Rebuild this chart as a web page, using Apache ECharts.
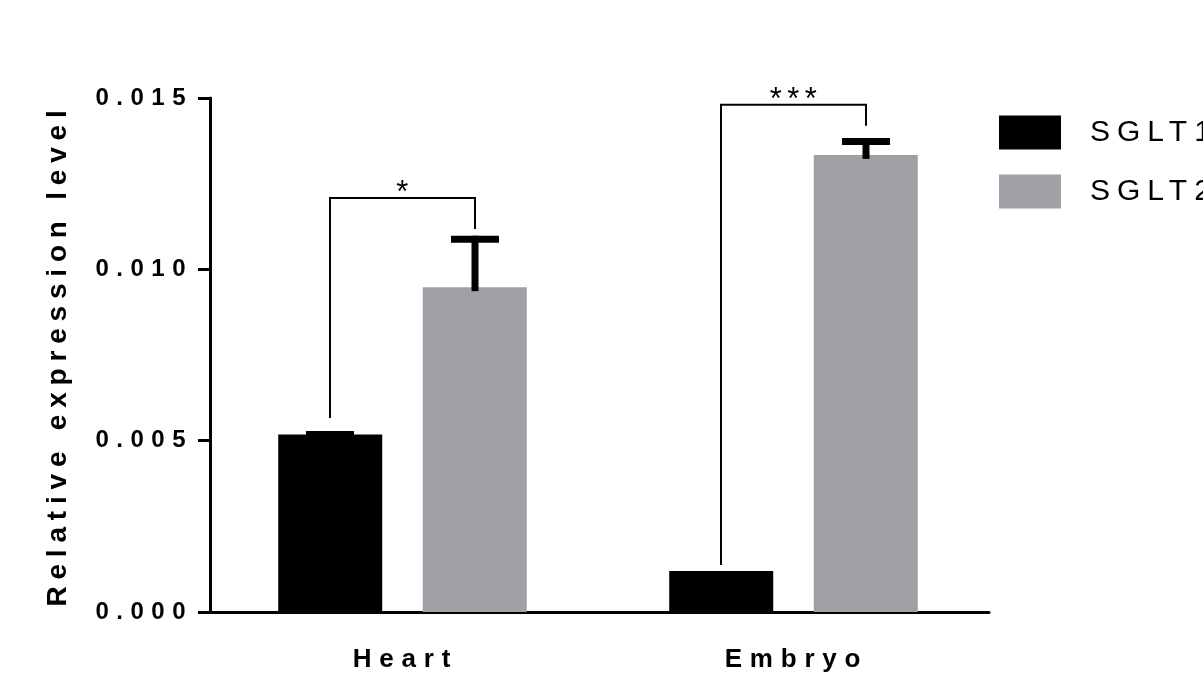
<!DOCTYPE html>
<html>
<head>
<meta charset="utf-8">
<script src="https://cdn.jsdelivr.net/npm/echarts@6/dist/echarts.min.js"></script>
<style>
html,body{margin:0;padding:0;background:#fff;}
#chart{width:1203px;height:686px;}
</style>
</head>
<body>
<div id="chart"></div>
<script>
// ---- data ----
const categories = ['Heart', 'Embryo'];
const seriesNames = ['SGLT1', 'SGLT2'];
const sglt1Mean = [0.00518, 0.0012];
const sglt1Sem = [0.0001, 0];
const sglt2Mean = [0.00948, 0.01334];
const sglt2Sem = [0.0015, 0.00049];
const sigLabels = ['*', '***'];
const sigBracketTop = [0.01208, 0.0148];
const sigLeftLegBottom = [0.00566, 0.00137];
const sigRightLegBottom = [0.01118, 0.01419];

// ---- style ----
const FONT = '"Liberation Sans", Arial, sans-serif';
const GRAY = '#a09fa5';
const BAR_W = 104;
const HALF_SPACING = 72.5; // distance of each bar centre from category centre

// font size -> letter spacing (the reference uses widely tracked text)
const TRACKING = { '24': 7.5, '26': 7.8, '28': 6.8, '30': 7, '31': 5.5 };
(function () {
  const proto = CanvasRenderingContext2D.prototype;
  if (!('letterSpacing' in proto)) return;
  const apply = function (ctx) {
    const m = /(\d+(?:\.\d+)?)px/.exec(ctx.font || '');
    const s = m ? TRACKING[m[1]] : null;
    ctx.letterSpacing = s ? s + 'px' : '0px';
  };
  const f = proto.fillText, st = proto.strokeText, me = proto.measureText;
  proto.fillText = function () { apply(this); return f.apply(this, arguments); };
  proto.strokeText = function () { apply(this); return st.apply(this, arguments); };
  proto.measureText = function () { apply(this); return me.apply(this, arguments); };
})();

const chart = echarts.init(document.getElementById('chart'));

const errData = [];
categories.forEach((c, i) => {
  errData.push([i, sglt1Mean[i], sglt1Sem[i], 0]);
  errData.push([i, sglt2Mean[i], sglt2Sem[i], 1]);
});
const sigData = categories.map((c, i) => [i, sigBracketTop[i], sigLeftLegBottom[i], sigRightLegBottom[i]]);

const option = {
  animation: false,
  backgroundColor: '#fff',
  textStyle: { fontFamily: FONT },
  grid: { left: 207, right: 214, top: 98, bottom: 74, containLabel: false },
  legend: {
    orient: 'vertical',
    left: 999,
    top: 114,
    padding: 0,
    itemWidth: 62,
    itemHeight: 34,
    itemGap: 22,
    icon: 'rect',
    data: seriesNames,
    textStyle: { fontSize: 30, color: '#000', fontFamily: FONT, padding: [0, 0, 0, 24] }
  },
  xAxis: {
    type: 'category',
    data: categories,
    axisLine: { lineStyle: { color: '#000', width: 3 } },
    axisTick: { alignWithLabel: true, length: 14, lineStyle: { color: '#000', width: 3 } },
    axisLabel: { margin: 31, fontSize: 26, fontWeight: 'bold', color: '#000', fontFamily: FONT, padding: [0, 0, 0, 6] },
    splitLine: { show: false }
  },
  yAxis: {
    type: 'value',
    min: 0,
    max: 0.015,
    interval: 0.005,
    offset: -3,
    name: 'Relative expression level',
    nameLocation: 'middle',
    nameGap: 134,
    nameTextStyle: { fontSize: 28, fontWeight: 'bold', color: '#000', fontFamily: FONT },
    axisLine: { show: true, lineStyle: { color: '#000', width: 3 } },
    axisTick: { show: true, length: 12, lineStyle: { color: '#000', width: 3 } },
    axisLabel: {
      margin: 17, fontSize: 24, fontWeight: 'bold', color: '#000', fontFamily: FONT,
      formatter: v => v.toFixed(3)
    },
    splitLine: { show: false }
  },
  series: [
    {
      name: seriesNames[0], type: 'bar', data: sglt1Mean,
      barWidth: BAR_W, barGap: '39%', itemStyle: { color: '#000' }, z: 2
    },
    {
      name: seriesNames[1], type: 'bar', data: sglt2Mean,
      barWidth: BAR_W, barGap: '39%', itemStyle: { color: GRAY }, z: 2
    },
    {
      type: 'custom',
      name: 'err',
      data: errData,
      encode: { x: 0, y: 1 },
      z: 3,
      silent: true,
      renderItem: function (params, api) {
        const sem = api.value(2);
        if (!sem) return { type: 'group', children: [] };
        const off = api.value(3) === 0 ? -HALF_SPACING : HALF_SPACING;
        const top = api.coord([api.value(0), api.value(1) + sem]);
        const base = api.coord([api.value(0), api.value(1)]);
        const x = top[0] + off;
        return {
          type: 'group',
          children: [
            { type: 'rect', shape: { x: x - 3.5, y: top[1], width: 7, height: base[1] - top[1] + 4 }, style: { fill: '#000' } },
            { type: 'rect', shape: { x: x - 24, y: top[1], width: 48, height: 7 }, style: { fill: '#000' } }
          ]
        };
      }
    },
    {
      type: 'custom',
      name: 'sig',
      data: sigData,
      encode: { x: 0, y: 1 },
      z: 4,
      silent: true,
      renderItem: function (params, api) {
        const i = api.value(0);
        const t = api.coord([i, api.value(1)]);
        const lb = api.coord([i, api.value(2)]);
        const rb = api.coord([i, api.value(3)]);
        const lx = t[0] - HALF_SPACING;
        const rx = t[0] + HALF_SPACING;
        return {
          type: 'group',
          children: [
            {
              type: 'polyline',
              shape: { points: [[lx, lb[1]], [lx, t[1]], [rx, t[1]], [rx, rb[1]]] },
              style: { stroke: '#000', lineWidth: 2, fill: null }
            },
            {
              type: 'text',
              style: {
                text: sigLabels[params.dataIndex],
                x: (lx + rx) / 2 + 2.5, y: t[1] + 14,
                align: 'center', verticalAlign: 'bottom',
                fontSize: 31, fontFamily: FONT, fill: '#000'
              }
            }
          ]
        };
      }
    }
  ]
};
chart.setOption(option);
</script>
</body>
</html>
